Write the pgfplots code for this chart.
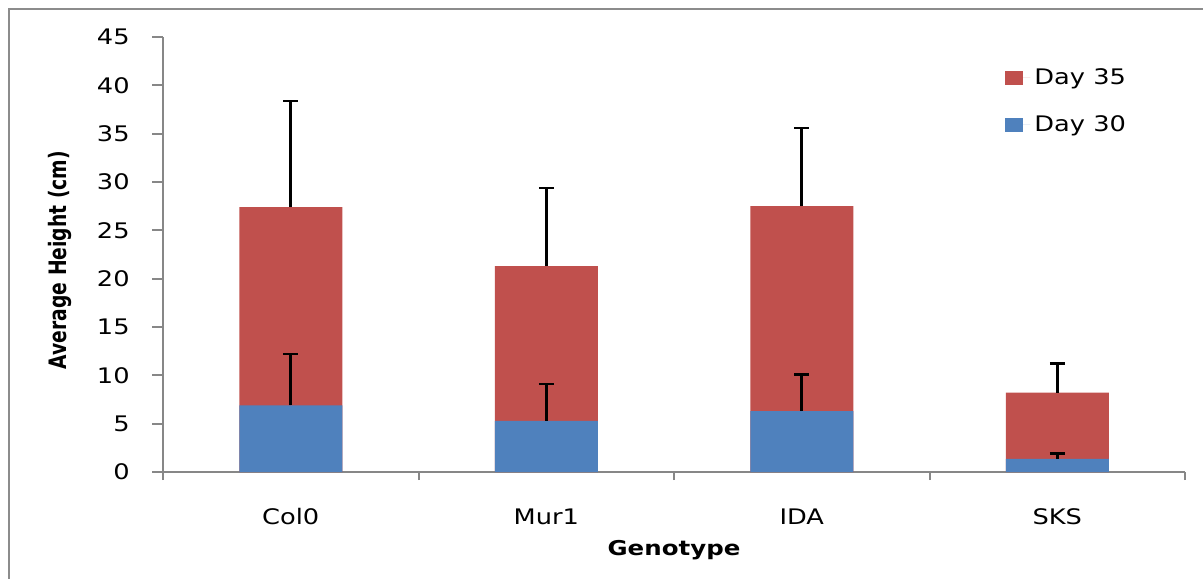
\documentclass[border=0pt]{standalone}
\usepackage{pgfplots}
\pgfplotsset{compat=1.18}
\usepackage{fontspec}
\setmainfont{DejaVu Sans}[FakeStretch=1.2]
\newfontfamily\ylabfont{DejaVu Sans}[FakeStretch=0.78]
\definecolor{barblue}{HTML}{4F81BD}
\definecolor{barred}{HTML}{C0504D}
\definecolor{axgray}{HTML}{878787}
\definecolor{framegray}{HTML}{8C8C8C}
\begin{document}
\begin{tikzpicture}
\begin{axis}[
  at={(81.5pt,-236pt)}, anchor=south west,
  scale only axis, width=511pt, height=217.5pt,
  xmin=-0.5, xmax=3.5, ymin=0, ymax=45,
  axis lines=left,
  axis line style={-, draw=axgray, line width=1pt},
  every tick/.style={draw=axgray, line width=1pt},
  tick align=outside,
  ytick={0,5,...,45},
  major tick length=5.5pt,
  xtick={0,1,2,3},
  xticklabels={Col0,Mur1,IDA,SKS},
  x tick style={draw=none},
  extra x ticks={-0.5,0.5,1.5,2.5,3.5},
  extra x tick labels={},
  extra x tick style={x tick style={draw=axgray, line width=1pt}, major tick length=4pt},
  /pgf/number format/assume math mode=true,
  tick label style={font=\fontsize{10.7}{12}\selectfont},
  xticklabel style={anchor=center, yshift=-17pt},
  yticklabel style={anchor=east, inner sep=0pt, xshift=-11pt},
  xlabel={\bfseries Genotype},
  every axis x label/.style={at={(axis description cs:0.5,-0.179)}, anchor=center, font=\fontsize{10.2}{12}\selectfont},
  ylabel={\ylabfont\bfseries Average Height (cm)},
  every axis y label/.style={at={(axis description cs:-0.1008,0.487)}, rotate=90, anchor=center, font=\fontsize{12}{14}\selectfont},
  ybar, bar width=51.5pt,
  legend style={draw=none, fill=none, at={(axis description cs:0.818,0.947)}, anchor=north west,
    font=\fontsize{10.7}{12}\selectfont, row sep=10pt},
  legend cell align=left,
  legend image code/.code={\fill[#1] (0pt,-3.5pt) rectangle (9pt,3.5pt); \path (0pt,0pt) -- (12.5pt,0pt);},
  error bars/error bar style={black, line width=1.3pt},
  error bars/error mark options={black, line width=1.3pt, mark size=3.75pt, rotate=90},
]
\addplot[fill=barred, draw=none, bar shift=0pt,
  error bars/.cd, y dir=plus, y explicit]
  coordinates {(0,27.4) +- (0,11.0) (1,21.3) +- (0,8.1) (2,27.5) +- (0,8.1) (3,8.2) +- (0,3.0)};
\addlegendentry{Day 35}
\addplot[fill=barblue, draw=none, bar shift=0pt,
  error bars/.cd, y dir=plus, y explicit]
  coordinates {(0,6.9) +- (0,5.3) (1,5.3) +- (0,3.8) (2,6.3) +- (0,3.8) (3,1.35) +- (0,0.55)};
\addlegendentry{Day 30}
\end{axis}
\draw[framegray, line width=1pt] (4.65pt,-295pt) -- (4.65pt,-4.65pt) -- (610pt,-4.65pt);
\pgfresetboundingbox
\path[use as bounding box] (0pt,0pt) rectangle (601.5pt,-289pt);
\end{tikzpicture}
\end{document}
